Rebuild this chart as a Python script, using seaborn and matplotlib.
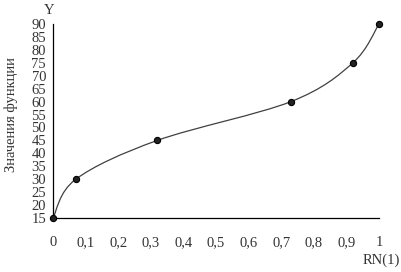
import numpy as np
import pandas as pd
import seaborn as sns
import matplotlib
matplotlib.use("Agg")
import matplotlib.pyplot as plt
from matplotlib.path import Path
from matplotlib.patches import PathPatch

# Data
rn = [0.0, 0.07, 0.32, 0.73, 0.92, 1.0]
y_vals = [15, 30, 45, 60, 75, 90]
x_ticks = [0, 0.1, 0.2, 0.3, 0.4, 0.5, 0.6, 0.7, 0.8, 0.9, 1.0]
x_tick_labels = ["0", "0,1", "0,2", "0,3", "0,4", "0,5", "0,6", "0,7", "0,8", "0,9", "1"]
y_ticks = list(range(15, 95, 5))

sns.set_style("white")
plt.rcParams['font.family'] = ['Liberation Serif', 'DejaVu Serif']

df = pd.DataFrame({"x": rn, "y": y_vals})

fig = plt.figure(figsize=(4.01, 2.72), dpi=100)
ax = fig.add_axes([53/401, 1-218/272, (379-53)/401, (218-24)/272])

# Smooth line (Excel-style Bezier through data points)
pts = np.column_stack([rn, y_vals]).astype(float)
n = len(pts)
verts = [tuple(pts[0])]
codes = [Path.MOVETO]
for i in range(n - 1):
    p0 = pts[i - 1] if i > 0 else pts[i]
    p1 = pts[i]
    p2 = pts[i + 1]
    p3 = pts[i + 2] if i + 2 < n else pts[i + 1]
    c1 = p1 + (p2 - p0) / 6.0
    c2 = p2 - (p3 - p1) / 6.0
    verts += [tuple(c1), tuple(c2), tuple(p2)]
    codes += [Path.CURVE4] * 3
ax.add_patch(PathPatch(Path(verts, codes), facecolor="none", edgecolor="#404040", lw=0.9, zorder=2))

sns.scatterplot(data=df, x="x", y="y", ax=ax, color="#222222", s=20, edgecolor="#000000",
                linewidth=0.8, zorder=3, legend=False, clip_on=False)

ax.set_xlim(0, 1)
ax.set_ylim(15, 90)
ax.set_xticks(x_ticks)
ax.set_xticklabels(x_tick_labels)
ax.set_yticks(y_ticks)
ax.set_xlabel("")
ax.set_ylabel("")

for s in ["top", "right"]:
    ax.spines[s].set_visible(False)
for s in ["left", "bottom"]:
    ax.spines[s].set_color("black")
    ax.spines[s].set_linewidth(0.9)

fs = 10.5
ax.tick_params(axis="x", direction="in", length=4, width=0.9, pad=13, labelsize=fs, colors="black")
ax.tick_params(axis="y", direction="out", length=4, width=0.9, pad=1, labelsize=fs, colors="black")
ax.tick_params(axis="x", labelcolor="#333333")
ax.tick_params(axis="y", labelcolor="#333333")

fig.text(49/401, 1-10/272, "Y", ha="center", va="center", fontsize=fs, color="#333333")
fig.text(381/401, 1-260/272, "RN(1)", ha="center", va="center", fontsize=fs, color="#333333")
fig.text(11/401, 1-115/272, "Значения функции", ha="center", va="center", rotation=90,
         fontsize=fs, color="#333333")

fig.savefig("out.png", dpi=100)
